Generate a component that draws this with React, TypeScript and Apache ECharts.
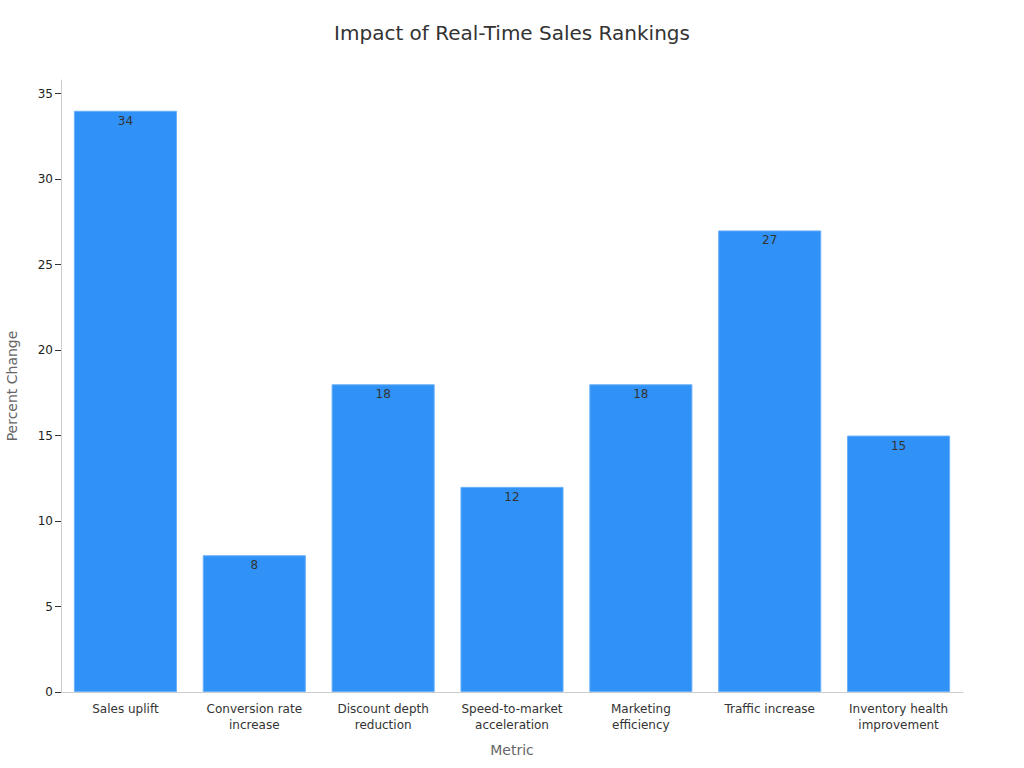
import React, { useEffect, useRef } from "react";
import * as echarts from "echarts";

const categories = [
  "Sales uplift",
  "Conversion rate\nincrease",
  "Discount depth\nreduction",
  "Speed-to-market\nacceleration",
  "Marketing\nefficiency",
  "Traffic increase",
  "Inventory health\nimprovement",
];
const percentChange = [34, 8, 18, 12, 18, 27, 15];

const font = "DejaVu Sans";

const App: React.FC = () => {
  const chartRef = useRef<HTMLDivElement>(null);

  useEffect(() => {
    document.body.style.margin = "0";
    const chart = echarts.init(chartRef.current, null, { renderer: "svg" });
    chart.setOption({
      animation: false,
      textStyle: { fontFamily: font },
      title: {
        text: "Impact of Real-Time Sales Rankings",
        left: "center",
        top: 18,
        textStyle: { fontFamily: font, fontSize: 20, fontWeight: "normal", color: "#333" },
      },
      grid: { left: 61, right: 61, top: 80, bottom: 76, outerBoundsMode: "none" },
      xAxis: {
        type: "category",
        data: categories,
        name: "Metric",
        nameLocation: "middle",
        nameGap: 51,
        nameTextStyle: { fontFamily: font, fontSize: 14, color: "#666" },
        axisLine: { lineStyle: { color: "#ccc" } },
        axisTick: { alignWithLabel: true, length: 5, lineStyle: { color: "#333" } },
        axisLabel: { fontFamily: font, fontSize: 12, color: "#333", margin: 9, lineHeight: 16, interval: 0 },
      },
      yAxis: {
        type: "value",
        min: 0,
        max: 35.8,
        interval: 5,
        name: "Percent Change",
        nameLocation: "middle",
        nameGap: 42,
        nameTextStyle: { fontFamily: font, fontSize: 14, color: "#666" },
        axisLine: { show: true, lineStyle: { color: "#ccc" } },
        axisTick: { show: true, length: 6, lineStyle: { color: "#333" } },
        axisLabel: { fontFamily: font, fontSize: 12, color: "#222", margin: 8, showMaxLabel: false },
        splitLine: { show: false },
      },
      series: [
        {
          type: "bar",
          data: percentChange,
          barCategoryGap: "20%",
          itemStyle: { color: "#3092F7", borderColor: "#6AB0F9", borderWidth: 1 },
          label: {
            show: true,
            position: "insideTop",
            distance: 4,
            fontFamily: font,
            fontSize: 12,
            color: "#333",
          },
        },
      ],
    });
    return () => chart.dispose();
  }, []);

  return <div ref={chartRef} style={{ width: 1024, height: 768 }} />;
};

export default App;
